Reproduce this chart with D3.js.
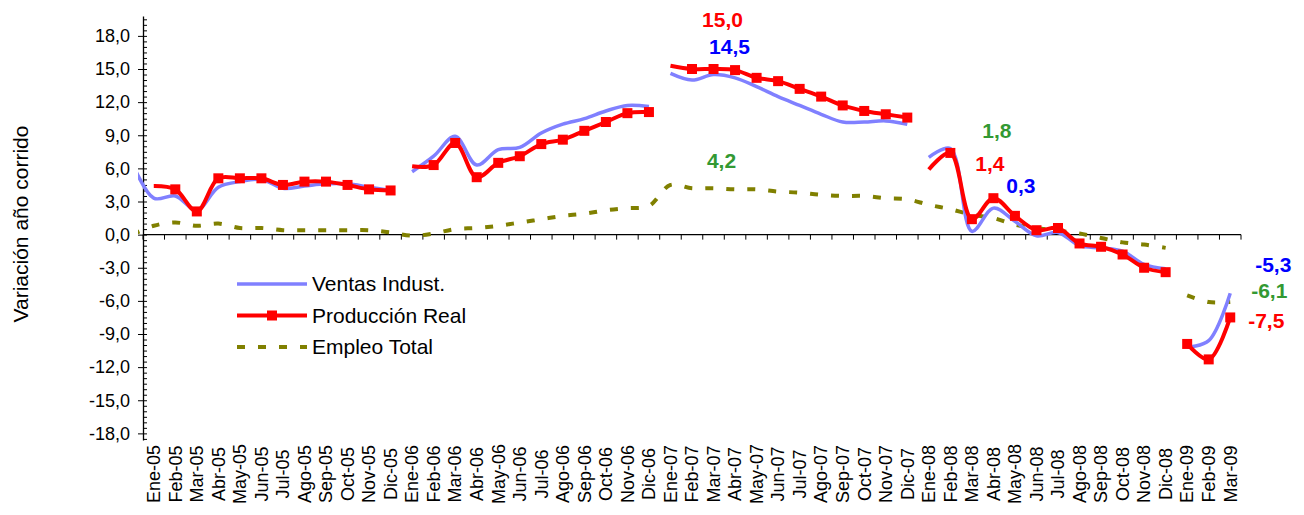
<!DOCTYPE html>
<html>
<head>
<meta charset="utf-8">
<script src="https://cdn.jsdelivr.net/npm/d3@7"></script>
<style>
  body { margin: 0; background: #fff; }
  text { font-family: Arial, "Liberation Sans", sans-serif; }
</style>
</head>
<body>
<svg id="chart" width="1304" height="515"></svg>
<script>
const categories = [
  'Ene-05','Feb-05','Mar-05','Abr-05','May-05','Jun-05','Jul-05','Ago-05','Sep-05','Oct-05','Nov-05','Dic-05',
  'Ene-06','Feb-06','Mar-06','Abr-06','May-06','Jun-06','Jul-06','Ago-06','Sep-06','Oct-06','Nov-06','Dic-06',
  'Ene-07','Feb-07','Mar-07','Abr-07','May-07','Jun-07','Jul-07','Ago-07','Sep-07','Oct-07','Nov-07','Dic-07',
  'Ene-08','Feb-08','Mar-08','Abr-08','May-08','Jun-08','Jul-08','Ago-08','Sep-08','Oct-08','Nov-08','Dic-08',
  'Ene-09','Feb-09','Mar-09'
];

const ventas = [
  3.3, 3.5, 2.2, 4.3, 4.8, 5.0, 4.2, 4.4, 4.6, 4.6, 4.3, 4.0,
  5.7, 7.1, 8.9, 6.3, 7.7, 7.9, 9.2, 10.0, 10.5, 11.2, 11.7, 11.6,
  14.6, 14.0, 14.5, 14.2, 13.4, 12.5, 11.7, 10.9, 10.2, 10.2, 10.3, 10.0,
  7.0, 7.8, 0.3, 2.4, 1.2, -0.1, 0.2, -1.0, -1.2, -1.5, -2.7, -3.1,
  -10.2, -9.6, -5.3
];

const produccion = [
  4.4, 4.1, 2.1, 5.1, 5.1, 5.1, 4.5, 4.8, 4.8, 4.5, 4.1, 4.0,
  6.2, 6.3, 8.3, 5.2, 6.5, 7.1, 8.2, 8.6, 9.4, 10.2, 11.0, 11.1,
  15.3, 15.0, 15.0, 14.9, 14.2, 13.9, 13.2, 12.5, 11.7, 11.2, 10.9, 10.6,
  5.9, 7.4, 1.4, 3.3, 1.7, 0.4, 0.6, -0.8, -1.1, -1.8, -3.0, -3.4,
  -9.9, -11.3, -7.5
];

const empleo = [
  0.8, 1.1, 0.8, 1.0, 0.6, 0.6, 0.4, 0.4, 0.4, 0.4, 0.4, 0.2,
  -0.1, 0.1, 0.5, 0.6, 0.8, 1.1, 1.4, 1.7, 1.9, 2.2, 2.4, 2.6,
  4.5, 4.2, 4.2, 4.1, 4.1, 3.9, 3.8, 3.6, 3.5, 3.5, 3.3, 3.2,
  2.7, 2.3, 1.8, 1.5, 0.9, 0.6, 0.35, 0.1, -0.3, -0.7, -0.9, -1.2,
  -5.5, -6.1, -6.1
];

// value of the month before the first category (Dic-04), only its line stub shows
const leadInVentas = 6.5;
const leadInEmpleo = 0.0;

// a new line segment starts at these months
const ventasBreaks = ['Ene-06', 'Ene-07', 'Ene-08', 'Ene-09'];
const produccionBreaks = ['Ene-06', 'Ene-07', 'Ene-08', 'Ene-09'];
const empleoBreaks = ['Ene-09'];
const noMarker = ['Ene-05', 'Ene-06', 'Ene-07', 'Ene-08'];

const callouts = [
  ['Mar-07', 'produccion'], ['Mar-07', 'ventas'], ['Mar-07', 'empleo'],
  ['Mar-08', 'empleo'], ['Mar-08', 'produccion'], ['Mar-08', 'ventas'],
  ['Mar-09', 'ventas'], ['Mar-09', 'empleo'], ['Mar-09', 'produccion']
];

const yMajor = [-18, -15, -12, -9, -6, -3, 0, 3, 6, 9, 12, 15, 18];

// ---- layout ----
const LEFT = 143, RIGHT = 1241, TOP = 16, BOTTOM = 440;
const COLORS = { ventas: '#8080ff', produccion: '#ff0000', empleo: '#808000' };
const LABEL_COLORS = { ventas: '#0000ff', produccion: '#ff0000', empleo: '#339933' };
const CALLOUT_OFFSET = [
  [9, -42], [16, -21], [8, -20],
  [25, -77], [18, -48], [49, -38],
  [43, -21], [39, -4], [36, 11]
];

const locale = d3.formatLocale({ decimal: ',', thousands: '.', grouping: [3], currency: ['$', ''], minus: '-' });
const fmt = locale.format('.1f');

const svg = d3.select('#chart');

const x = d3.scaleBand().domain(categories).range([LEFT, RIGHT]);
const y = d3.scaleLinear().domain([-18.6, 19.8]).range([BOTTOM, TOP]);
const cx = c => x(c) + x.bandwidth() / 2;

const series = { ventas, produccion, empleo };

function segments(values, breaks, leadIn) {
  const segs = [];
  let cur = [];
  if (leadIn !== undefined) cur.push({ px: cx(categories[0]) - x.bandwidth(), v: leadIn });
  categories.forEach((c, i) => {
    if (breaks.includes(c) && cur.length) { segs.push(cur); cur = []; }
    cur.push({ c, px: cx(c), v: values[i] });
  });
  segs.push(cur);
  return segs;
}

svg.append('clipPath').attr('id', 'plotclip')
  .append('rect').attr('x', LEFT - 5).attr('y', 0).attr('width', 1304).attr('height', 515);

const line = d3.line().x(d => d.px).y(d => y(d.v)).curve(d3.curveCatmullRom.alpha(0.5));

// ---- y axis ----
const yAxis = svg.append('g').attr('transform', `translate(${LEFT},0)`)
  .call(d3.axisLeft(y).tickValues(yMajor).tickSizeInner(5).tickSizeOuter(0).tickPadding(8).tickFormat(fmt));
yAxis.select('.domain').attr('stroke', '#000').attr('stroke-width', 1.3);
yAxis.selectAll('.tick line').attr('stroke', '#000');
yAxis.selectAll('.tick text').attr('font-size', 18).attr('fill', '#000')
  .attr('font-family', 'Arial, "Liberation Sans", sans-serif');

const minor = d3.range(-18.5, 19.6, 0.5);
svg.append('g').attr('transform', `translate(${LEFT},0)`)
  .call(d3.axisRight(y).tickValues(minor).tickSize(4).tickFormat(''))
  .call(g => g.select('.domain').remove())
  .selectAll('.tick line').attr('stroke', '#000');

svg.append('text')
  .attr('transform', `translate(28,224) rotate(-90)`)
  .attr('text-anchor', 'middle')
  .attr('font-size', 21)
  .text('Variación año corrido');

// ---- x axis ----
const y0 = y(0);
svg.append('line').attr('x1', LEFT).attr('x2', RIGHT).attr('y1', y0).attr('y2', y0)
  .attr('stroke', '#000').attr('stroke-width', 1.3);
svg.append('g').selectAll('line')
  .data(categories.map(c => x(c)).concat([RIGHT]))
  .join('line')
  .attr('x1', d => d).attr('x2', d => d)
  .attr('y1', y0).attr('y2', y0 + 5)
  .attr('stroke', '#000');

svg.append('g').selectAll('text')
  .data(categories)
  .join('text')
  .attr('transform', c => `translate(${cx(c)},474) rotate(-90)`)
  .attr('text-anchor', 'middle')
  .attr('dy', '0.35em')
  .attr('font-size', 18)
  .text(c => c);

// ---- lines ----
const plot = svg.append('g').attr('clip-path', 'url(#plotclip)');

plot.append('g').selectAll('path')
  .data(segments(empleo, empleoBreaks, leadInEmpleo))
  .join('path')
  .attr('d', line)
  .attr('fill', 'none')
  .attr('stroke', COLORS.empleo)
  .attr('stroke-width', 4)
  .attr('stroke-dasharray', '8,13');

plot.append('g').selectAll('path')
  .data(segments(ventas, ventasBreaks, leadInVentas))
  .join('path')
  .attr('d', line)
  .attr('fill', 'none')
  .attr('stroke', COLORS.ventas)
  .attr('stroke-width', 3.5);

plot.append('g').selectAll('path')
  .data(segments(produccion, produccionBreaks))
  .join('path')
  .attr('d', line)
  .attr('fill', 'none')
  .attr('stroke', COLORS.produccion)
  .attr('stroke-width', 4);

plot.append('g').selectAll('rect')
  .data(categories.map((c, i) => ({ c, v: produccion[i] })).filter(d => !noMarker.includes(d.c)))
  .join('rect')
  .attr('x', d => cx(d.c) - 5)
  .attr('y', d => y(d.v) - 5)
  .attr('width', 10)
  .attr('height', 10)
  .attr('fill', COLORS.produccion);

// ---- callouts ----
svg.append('g').selectAll('text')
  .data(callouts)
  .join('text')
  .attr('x', (d, i) => cx(d[0]) + CALLOUT_OFFSET[i][0])
  .attr('y', (d, i) => y(series[d[1]][categories.indexOf(d[0])]) + CALLOUT_OFFSET[i][1])
  .attr('text-anchor', 'middle')
  .attr('font-size', 21)
  .attr('font-weight', 'bold')
  .attr('fill', d => LABEL_COLORS[d[1]])
  .text(d => fmt(series[d[1]][categories.indexOf(d[0])]));

// ---- legend ----
const legendItems = [
  { key: 'ventas', label: 'Ventas Indust.' },
  { key: 'produccion', label: 'Producción Real' },
  { key: 'empleo', label: 'Empleo Total' }
];
const legend = svg.append('g').attr('transform', 'translate(237,284)');
const item = legend.selectAll('g')
  .data(legendItems)
  .join('g')
  .attr('transform', (d, i) => `translate(0,${i * 31.5})`);
item.append('line')
  .attr('x1', 0).attr('x2', 70).attr('y1', 0).attr('y2', 0)
  .attr('stroke', d => COLORS[d.key])
  .attr('stroke-width', d => d.key === 'ventas' ? 3.5 : 4)
  .attr('stroke-dasharray', d => d.key === 'empleo' ? '8,13' : null);
item.filter(d => d.key === 'produccion').append('rect')
  .attr('x', 30).attr('y', -5).attr('width', 10).attr('height', 10)
  .attr('fill', COLORS.produccion);
item.append('text')
  .attr('x', 75)
  .attr('dy', '0.35em')
  .attr('font-size', 21)
  .text(d => d.label);
</script>
</body>
</html>
